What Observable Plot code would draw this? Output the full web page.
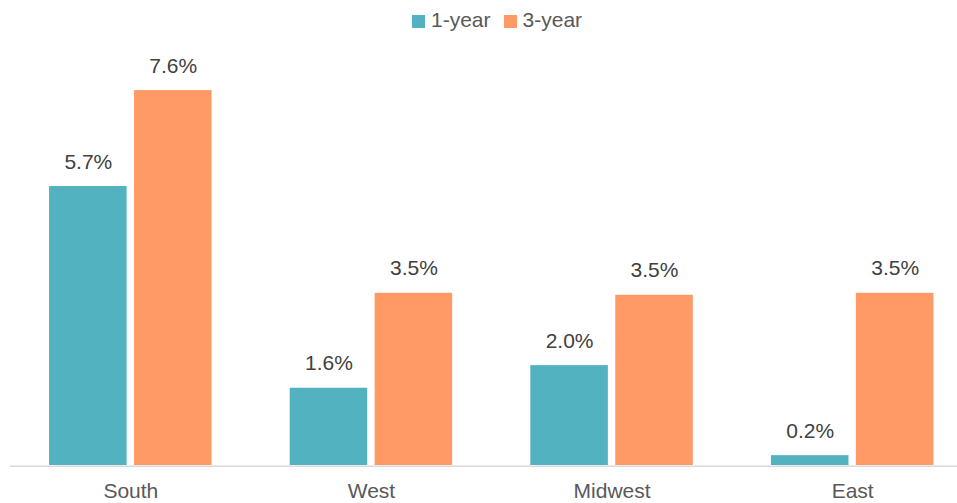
<!DOCTYPE html>
<html>
<head>
<meta charset="utf-8">
<script src="https://cdn.jsdelivr.net/npm/d3@7"></script>
<script src="https://cdn.jsdelivr.net/npm/@observablehq/plot@0.6"></script>
<style>
  html, body { margin: 0; padding: 0; background: #fff; }
  body { width: 957px; height: 503px; overflow: hidden; font-family: "Liberation Sans", Arial, sans-serif; }
  #legend { height: 40px; box-sizing: border-box; padding-top: 8px; display: flex; align-items: flex-start; margin-left: 412px; font-size: 21px; line-height: 24px; color: #595959; }
  #legend .item { display: flex; align-items: center; margin-right: 13px; height: 24px; }
  #legend .sw { width: 13px; height: 13px; margin-right: 6px; position: relative; top: 1.5px; }
  #chart svg { display: block; overflow: visible; }
</style>
</head>
<body>
<div id="legend"></div>
<div id="chart"></div>
<script>
const regions = ["South", "West", "Midwest", "East"];
const seriesNames = ["1-year", "3-year"];
const oneYear = [5.67, 1.57, 2.03, 0.20];
const threeYear = [7.62, 3.50, 3.46, 3.50];
const seriesColors = ["#52b2bf", "#ff9966"];

const data = [];
regions.forEach((r, i) => {
  data.push({region: r, series: seriesNames[0], value: oneYear[i]});
  data.push({region: r, series: seriesNames[1], value: threeYear[i]});
});

const legend = document.getElementById("legend");
seriesNames.forEach((s, i) => {
  const item = document.createElement("div");
  item.className = "item";
  const sw = document.createElement("span");
  sw.className = "sw";
  sw.style.background = seriesColors[i];
  const t = document.createElement("span");
  t.textContent = s;
  item.appendChild(sw);
  item.appendChild(t);
  legend.appendChild(item);
});

const chart = Plot.plot({
  width: 957,
  height: 463,
  marginLeft: 10,
  marginRight: -15.5,
  marginTop: 31.4,
  marginBottom: 38,
  style: {fontFamily: "'Liberation Sans', Arial, sans-serif", fontSize: "21px", color: "#595959", background: "#fff"},
  fx: {domain: regions, padding: 0, round: false, axis: "bottom", tickSize: 0, tickPadding: 18, label: null},
  x: {domain: seriesNames, paddingInner: 0.087, paddingOuter: 0.46, round: false, axis: null},
  y: {domain: [0, 8], axis: null},
  color: {domain: seriesNames, range: seriesColors},
  marks: [
    Plot.ruleY([0], {stroke: "#d9d9d9", strokeWidth: 1.5, dy: 0.75}),
    Plot.barY(data, {fx: "region", x: "series", y: "value", fill: "series"}),
    Plot.text(data, {fx: "region", x: "series", y: "value", text: d => d.value.toFixed(1) + "%", lineAnchor: "bottom", dy: -18, fontSize: 21, fill: "#404040"})
  ]
});
document.getElementById("chart").appendChild(chart);
</script>
</body>
</html>
